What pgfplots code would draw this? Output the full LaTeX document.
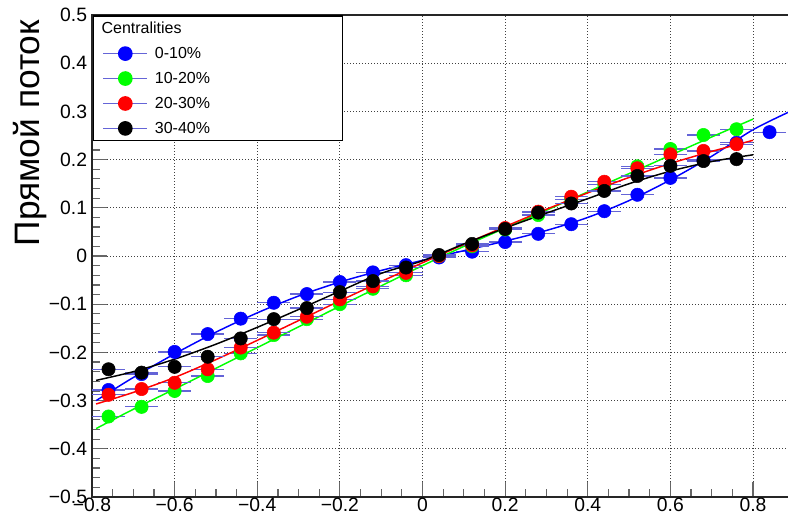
\documentclass[border=0pt]{standalone}
\usepackage{fontspec}
\setmainfont{Liberation Sans}
\usepackage{pgfplots}
\pgfplotsset{compat=1.18}
\definecolor{errcol}{RGB}{100,100,215}
\newcommand{\E}[1]{\makebox[134pt][l]{#1}}
\pgfplotsset{
  leg/.style={legend image code/.code={
    \draw[errcol, line width=0.9pt] (0pt,0pt) -- (33pt,0pt);
    \draw[##1] plot coordinates {(16.5pt,0pt)};}},
  pts/.style={only marks, mark=*, mark size=5pt, color=#1, leg,
    error bars/.cd, x dir=both, x fixed=0.04, error mark=none,
    error bar style={errcol, line width=0.9pt}},
  fit/.style={color=#1, line width=1.1pt, smooth, no markers, forget plot},
}
\begin{document}
\begin{tikzpicture}[x=1pt,y=1pt]
\useasboundingbox (-69,-15.75) rectangle (522,372.75);
\begin{axis}[
    at={(0,0)}, anchor=south west,
    scale only axis,
    width=522.8pt, height=361.5pt,
    xmin=-0.8, xmax=0.8872, ymin=-0.5, ymax=0.5,
    xtick={-0.8,-0.6,-0.4,-0.2,0,0.2,0.4,0.6,0.8},
    xticklabels={−0.8,−0.6,−0.4,−0.2,0,0.2,0.4,0.6,0.8},
    ytick={-0.5,-0.4,-0.3,-0.2,-0.1,0,0.1,0.2,0.3,0.4,0.5},
    yticklabels={−0.5,−0.4,−0.3,−0.2,−0.1,0,0.1,0.2,0.3,0.4,0.5},
    minor x tick num=3, minor y tick num=4,
    tick align=inside, xtick pos=bottom, ytick pos=left,
    major tick length=11.25pt, minor tick length=6pt,
    grid=major,
    grid style={black!75, line width=0.6pt, dash pattern=on 0.75pt off 1.5pt},
    axis line style={black!85, line width=1.2pt},
    tick style={black!60, line width=0.9pt},
    ticklabel style={font=\fontsize{14.5}{17}\selectfont},
    xticklabel style={inner sep=0.5pt},
    yticklabel style={inner sep=3.5pt},
    ylabel={Прямой поток},
    ylabel style={font=\fontsize{26.5}{30}\selectfont, inner sep=0pt,
        at={(axis description cs:-0.065,0.99)}, anchor=south east},
    legend style={at={(axis description cs:0.0015,0.999)}, anchor=north west,
        draw=black, line width=1pt, fill=white,
        font=\fontsize{12}{14}\selectfont,
        inner xsep=6.75pt, inner ysep=4.2pt, row sep=8.7pt, column sep=5.25pt,
        nodes={inner sep=0pt}},
    legend cell align=left,
]
\addlegendimage{empty legend}
\addlegendentry{\makebox[0pt][l]{\hspace*{-40.5pt}Centralities}}

% 0-10%
\addplot[pts=blue] coordinates {
    (-0.76,-0.278) (-0.68,-0.245) (-0.60,-0.199) (-0.52,-0.162) (-0.44,-0.130)
    (-0.36,-0.097) (-0.28,-0.079) (-0.20,-0.054) (-0.12,-0.034) (-0.04,-0.019)
    (0.04,-0.003) (0.12,0.009) (0.20,0.029) (0.28,0.046) (0.36,0.066)
    (0.44,0.093) (0.52,0.127) (0.60,0.162) (0.68,0.200) (0.76,0.235) (0.84,0.257)
};
\addlegendentry{\E{0-10\%}}
\addplot[fit=blue] coordinates {
    (-0.79,-0.300) (-0.7,-0.252) (-0.6,-0.203) (-0.5,-0.158) (-0.4,-0.118)
    (-0.3,-0.083) (-0.2,-0.054) (-0.1,-0.030) (0,-0.009) (0.1,0.011)
    (0.2,0.031) (0.3,0.053) (0.4,0.080) (0.5,0.115) (0.6,0.158)
    (0.7,0.207) (0.8,0.262) (0.89,0.300)
};

% 10-20%
\addplot[pts=green] coordinates {
    (-0.76,-0.333) (-0.68,-0.313) (-0.60,-0.280) (-0.52,-0.249) (-0.44,-0.202)
    (-0.36,-0.164) (-0.28,-0.131) (-0.20,-0.100) (-0.12,-0.068) (-0.04,-0.040)
    (0.04,0.000) (0.12,0.020) (0.20,0.055) (0.28,0.085) (0.36,0.118)
    (0.44,0.148) (0.52,0.186) (0.60,0.222) (0.68,0.251) (0.76,0.263)
};
\addlegendentry{\E{10-20\%}}
\addplot[fit=green] coordinates {
    (-0.79,-0.358) (-0.7,-0.318) (-0.6,-0.276) (-0.5,-0.233) (-0.4,-0.190)
    (-0.3,-0.147) (-0.2,-0.104) (-0.1,-0.062) (0,-0.020) (0.1,0.020)
    (0.2,0.058) (0.3,0.095) (0.4,0.133) (0.5,0.171) (0.6,0.209)
    (0.7,0.247) (0.8,0.284)
};

% 20-30%
\addplot[pts=red] coordinates {
    (-0.76,-0.288) (-0.68,-0.276) (-0.60,-0.263) (-0.52,-0.235) (-0.44,-0.190)
    (-0.36,-0.159) (-0.28,-0.126) (-0.20,-0.090) (-0.12,-0.063) (-0.04,-0.035)
    (0.04,0.000) (0.12,0.022) (0.20,0.058) (0.28,0.092) (0.36,0.123)
    (0.44,0.154) (0.52,0.182) (0.60,0.211) (0.68,0.218) (0.76,0.232)
};
\addlegendentry{\E{20-30\%}}
\addplot[fit=red] coordinates {
    (-0.79,-0.307) (-0.7,-0.283) (-0.6,-0.252) (-0.5,-0.215) (-0.4,-0.175)
    (-0.3,-0.134) (-0.2,-0.093) (-0.1,-0.053) (0,-0.014) (0.1,0.024)
    (0.2,0.061) (0.3,0.097) (0.4,0.131) (0.5,0.163) (0.6,0.192)
    (0.7,0.217) (0.8,0.240)
};

% 30-40%
\addplot[pts=black] coordinates {
    (-0.76,-0.235) (-0.68,-0.242) (-0.60,-0.230) (-0.52,-0.209) (-0.44,-0.171)
    (-0.36,-0.131) (-0.28,-0.108) (-0.20,-0.075) (-0.12,-0.052) (-0.04,-0.024)
    (0.04,0.002) (0.12,0.025) (0.20,0.056) (0.28,0.090) (0.36,0.109)
    (0.44,0.135) (0.52,0.166) (0.60,0.187) (0.68,0.197) (0.76,0.201)
};
\addlegendentry{\E{30-40\%}}
\addplot[fit=black] coordinates {
    (-0.79,-0.258) (-0.7,-0.240) (-0.6,-0.214) (-0.5,-0.183) (-0.4,-0.148)
    (-0.3,-0.111) (-0.2,-0.073) (-0.1,-0.036) (0,-0.010) (0.1,0.025)
    (0.2,0.058) (0.3,0.089) (0.4,0.119) (0.5,0.150) (0.6,0.176)
    (0.7,0.196) (0.8,0.210)
};
\end{axis}
\end{tikzpicture}
\end{document}
